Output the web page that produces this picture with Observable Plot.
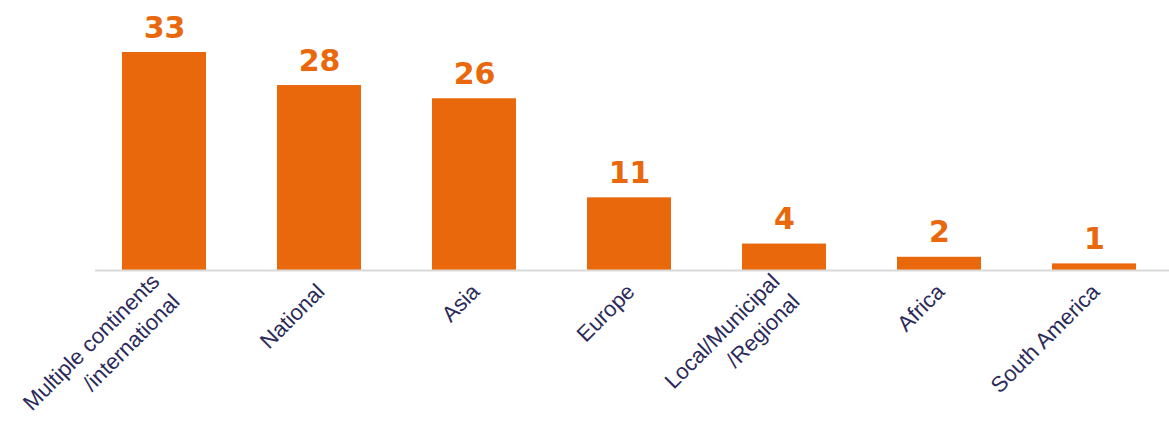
<!DOCTYPE html>
<html>
<head>
<meta charset="utf-8">
<script src="https://cdn.jsdelivr.net/npm/d3@7"></script>
<script src="https://cdn.jsdelivr.net/npm/@observablehq/plot@0.6"></script>
<style>
  html, body { margin: 0; padding: 0; background: #fff; }
  #chart svg { display: block; }
</style>
</head>
<body>
<div id="chart"></div>
<script>
const categories = [
  "Multiple continents\n/international",
  "National",
  "Asia",
  "Europe",
  "Local/Municipal\n/Regional",
  "Africa",
  "South America"
];
const counts = [33, 28, 26, 11, 4, 2, 1];

const data = categories.map((c, i) => ({category: c, count: counts[i]}));

const orange = "#EA680C";
const navy = "#2B2A5A";

const chart = Plot.plot({
  width: 1169,
  height: 422,
  marginLeft: 95,
  marginRight: 0,
  marginTop: 52,
  marginBottom: 152,
  style: {fontFamily: "'Liberation Sans', Arial, sans-serif", background: "#fff"},
  x: {domain: categories, paddingInner: 0.46, paddingOuter: 0.183, align: 0.44, label: null},
  y: {domain: [0, 33], axis: null},
  marks: [
    Plot.barY(data, {x: "category", y: "count", fill: orange}),
    Plot.ruleY([0], {stroke: "#d9d9d9", strokeWidth: 2}),
    Plot.text(data, {x: "category", y: "count", text: d => String(d.count), fill: orange,
      fontFamily: "'DejaVu Sans', sans-serif", fontSize: 30, fontWeight: "bold", lineAnchor: "bottom", dy: -15}),
    Plot.axisX({tickSize: 0, tickPadding: 16, tickRotate: -45, fontSize: 22, lineHeight: 1.3, fill: navy, label: null})
  ]
});
document.getElementById("chart").appendChild(chart);
</script>
</body>
</html>
